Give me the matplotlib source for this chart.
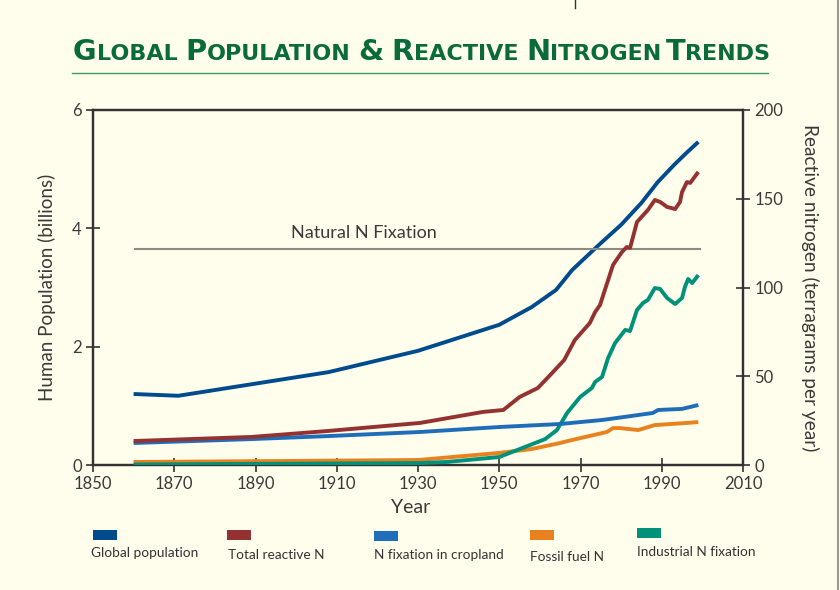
import matplotlib
matplotlib.use("Agg")
import matplotlib.pyplot as plt
from matplotlib.lines import Line2D
from matplotlib.patches import Rectangle

# ---------------- data ----------------
pop_years = [1860, 1871, 1908, 1930, 1950, 1958, 1964, 1968, 1975, 1980, 1985, 1989, 1993, 1996, 1999]
pop_values = [1.20, 1.17, 1.57, 1.93, 2.37, 2.67, 2.96, 3.30, 3.75, 4.06, 4.43, 4.78, 5.07, 5.27, 5.46]

total_years = [1860, 1889, 1908, 1930.5, 1946, 1951, 1955, 1959.5, 1963, 1966, 1968.6, 1972.3, 1973.6,
               1974.8, 1976, 1978, 1980.2, 1981.4, 1982.2, 1983.9, 1986.6, 1988.3, 1989.6, 1991.3,
               1993.3, 1994.5, 1995, 1996.2, 1997, 1999]
total_values = [13.5, 15.8, 19.2, 23.7, 29.9, 31.0, 38.3, 43.4, 51.8, 59.2, 70.4, 80.0, 86.2,
                90.1, 98.6, 112.7, 120.0, 122.8, 122.3, 136.9, 143.7, 149.3, 148.2, 145.4,
                144.2, 148.2, 153.8, 159.4, 158.9, 165.1]

crop_years = [1860, 1889, 1908, 1930.5, 1950, 1965, 1975.5, 1987.8, 1989.1, 1995, 1999]
crop_values = [12.4, 14.6, 16.3, 18.6, 21.4, 23.1, 25.4, 29.3, 31.0, 31.6, 33.8]

fossil_years = [1860, 1900, 1930, 1950, 1958, 1965, 1967.4, 1976.5, 1978, 1979.7, 1984.2, 1988.3, 1996.2, 1999]
fossil_values = [1.7, 2.3, 2.8, 6.8, 9.0, 12.4, 13.8, 18.6, 20.8, 20.8, 19.7, 22.5, 23.7, 24.2]

indus_years = [1860, 1930.5, 1937, 1950, 1961.3, 1964.2, 1966.7, 1969.9, 1972.8, 1973.6, 1975.3,
               1976.8, 1978.5, 1981, 1982.2, 1983.9, 1985.4, 1986.6, 1988.3, 1989.6, 1991.3,
               1993.3, 1995, 1995.7, 1996.5, 1997.5, 1999]
indus_values = [0.3, 1.1, 1.7, 4.5, 14.6, 19.7, 29.3, 38.3, 43.4, 46.8, 49.6,
                60.3, 68.7, 76.1, 75.5, 87.3, 91.3, 93.0, 99.7, 99.2, 94.1,
                90.7, 94.1, 100.3, 104.8, 102.5, 107.0]

natural_fix_value = 121.7
natural_fix_years = [1860.3, 1999.5]

x_ticks = [1850, 1870, 1890, 1910, 1930, 1950, 1970, 1990, 2010]
left_ticks = [0, 2, 4, 6]
right_ticks = [0, 50, 100, 150, 200]

legend_labels = ["Global population", "Total reactive N", "N fixation in cropland",
                 "Fossil fuel N", "Industrial N fixation"]
legend_colors = ["#004B8D", "#943232", "#1F6DB9", "#E8821F", "#00917A"]

# ---------------- styling ----------------
BG = "#FFFDEB"
TXT = "#3A3A3A"
SPINE = "#333333"
plt.rcParams['font.family'] = ['Lato', 'DejaVu Sans']

W, H = 840, 590
fig = plt.figure(figsize=(W / 100, H / 100), dpi=100, facecolor=BG)

def fx(px):
    return px / W

def fy(py):
    return 1 - py / H

ax = fig.add_axes([fx(93), fy(465), fx(743) - fx(93), fy(110) - fy(465)])
ax.set_facecolor(BG)
ax2 = ax.twinx()

ax.set_xlim(1850, 2010)
ax.set_ylim(0, 6)
ax2.set_ylim(0, 200)

lw = 2.8
ax.plot(pop_years, pop_values, color=legend_colors[0], lw=lw, solid_capstyle='butt', zorder=5)
ax2.plot(natural_fix_years, [natural_fix_value] * 2, color="#8C8C84", lw=1.5, zorder=1)
ax2.plot(fossil_years, fossil_values, color=legend_colors[3], lw=lw, solid_capstyle='butt', zorder=2)
ax2.plot(indus_years, indus_values, color=legend_colors[4], lw=lw, solid_capstyle='butt', zorder=3)
ax2.plot(crop_years, crop_values, color=legend_colors[2], lw=lw, solid_capstyle='butt', zorder=3)
ax2.plot(total_years, total_values, color=legend_colors[1], lw=lw, solid_capstyle='butt', zorder=4)

ax2.text(0.417, 0.6535, "Natural N Fixation", transform=ax.transAxes, ha='center', va='center',
         fontsize=13, color=TXT)

for a in (ax, ax2):
    for s in a.spines.values():
        s.set_color(SPINE)
        s.set_linewidth(1.6)

ax.set_xticks(x_ticks)
ax.set_yticks(left_ticks)
ax2.set_yticks(right_ticks)
ax.tick_params(axis='both', direction='inout', length=10, width=1.2, color=SPINE,
               labelsize=12, labelcolor=TXT, pad=3)
ax2.tick_params(axis='y', direction='inout', length=10, width=1.2, color=SPINE,
                labelsize=12, labelcolor=TXT, pad=3)

ax.set_xlabel("Year", fontsize=14, color=TXT, va='center')
ax.xaxis.set_label_coords(0.489, -0.121)
ax.set_ylabel("Human Population (billions)", fontsize=13.5, color=TXT, va='center')
ax.yaxis.set_label_coords(-0.0708, 0.5)
ax2.set_ylabel("Reactive nitrogen (terragrams per year)", fontsize=13.8, color=TXT,
               rotation=270, va='center')
ax2.yaxis.set_label_coords(1.103, 0.5)

# ---------------- title in small caps ----------------
GREEN = "#0A6B3A"
pieces = [("G", 1), ("LOBAL", 0), (" ", 2), ("P", 1), ("OPULATION", 0), (" ", 2), ("&", 1), (" ", 2),
          ("R", 1), ("EACTIVE", 0), (" ", 2), ("N", 1), ("ITROGEN", 0), (" ", 3), ("T", 1), ("RENDS", 0)]
big, small = 20.8, 16
fig.canvas.draw()
renderer = fig.canvas.get_renderer()
x = fx(73)
ybase = fy(60)
for s, kind in pieces:
    if kind >= 2:
        x += fx(8 if kind == 2 else 4)
        continue
    t = fig.text(x, ybase, s, fontsize=big if kind == 1 else small, fontweight='bold',
                 family='DejaVu Sans', color=GREEN, va='baseline', ha='left')
    bb = t.get_window_extent(renderer)
    x += bb.width / W

fig.add_artist(Line2D([fx(72), fx(768)], [fy(73), fy(73)], color="#3C9A62", lw=1.0))

# ---------------- legend ----------------
rect_x = [93, 227, 374, 530, 637]
rect_y = [530, 530, 531, 530, 528]
lab_x = [91, 228, 374, 530, 637]
lab_y = [553, 555, 555, 557, 552]
for i, (lab, col) in enumerate(zip(legend_labels, legend_colors)):
    fig.add_artist(Rectangle((fx(rect_x[i]), fy(rect_y[i] + 10)), fx(24), 10 / H,
                             facecolor=col, edgecolor='none', transform=fig.transFigure))
    fig.text(fx(lab_x[i]), fy(lab_y[i]), lab, fontsize=9.8, color="#333333", ha='left', va='center')

# frame artefacts of the scanned page
fig.add_artist(Line2D([fx(838), fx(838)], [0, 1], color="#9A9A9A", lw=1.5))
fig.add_artist(Line2D([fx(575), fx(575)], [1, fy(8)], color="#333333", lw=1.0))

fig.savefig("out.png", dpi=100, facecolor=BG)
